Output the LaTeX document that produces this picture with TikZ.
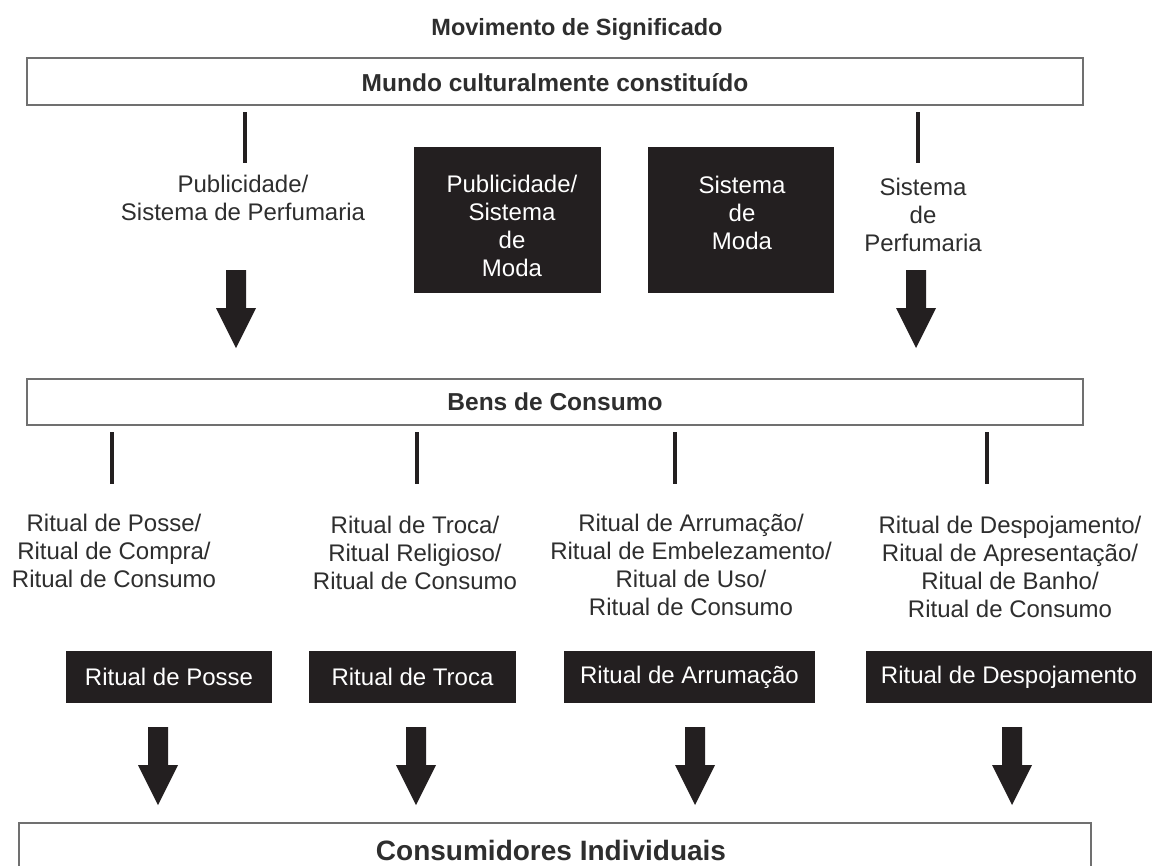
\documentclass[tikz,border=0pt]{standalone}
\usepackage{fontspec}
\setmainfont{Liberation Sans}
\definecolor{ink}{HTML}{231F20}
\definecolor{txt}{HTML}{2E2E2E}
\definecolor{frame}{HTML}{707070}
\begin{document}
\begin{tikzpicture}[x=1pt,y=-1pt,
  every node/.style={inner sep=0pt, outer sep=0pt},
  lbl/.style={align=center, text=txt, font=\fontsize{24}{28}\selectfont},
  ttl/.style={text=txt, font=\bfseries\fontsize{24.5}{28}\selectfont},
  framebox/.style={draw=frame, line width=1.5pt, fill=white},
  blackbox/.style={fill=ink, draw=none},
  wtxt/.style={align=center, text=white, font=\fontsize{24}{28}\selectfont},
  stem/.style={draw=ink, line width=3.5pt},
  fatarrow/.pic={\fill[ink] (-10,0) -- (10,0) -- (10,38) -- (20,38) -- (0,78) -- (-20,38) -- (-10,38) -- cycle;}
]
\useasboundingbox (0,0) rectangle (1154,865);
\clip (0,0) rectangle (1154,865);
\fill[white] (0,0) rectangle (1154,865);

% title
\node[ttl, font=\bfseries\fontsize{23.5}{26}\selectfont] (title) at (577,29) {Movimento de Significado};

% top box
\node[framebox, minimum width=1056pt, minimum height=47pt] (mundo) at (555,81.5) {};
\node[ttl] (mundot) at (555,83) {Mundo culturalmente constituído};

% stems from top box
\coordinate (s1a) at (245,112); \coordinate (s1b) at (245,163);
\coordinate (s2a) at (918,112); \coordinate (s2b) at (918,163);
\draw[stem] (s1a) -- (s1b);
\draw[stem] (s2a) -- (s2b);

% labels top row
\node[lbl] (pubsp) at (243,197.5) {Publicidade/\\Sistema de Perfumaria};
\node[lbl] (sperf) at (923,215) {Sistema\\de\\Perfumaria};

% black boxes top row
\node[blackbox, minimum width=187pt, minimum height=146pt] (bb1) at (507.5,220) {};
\node[wtxt] (bb1t) at (512,225.5) {Publicidade/\\Sistema\\de\\Moda};
\node[blackbox, minimum width=186pt, minimum height=146pt] (bb2) at (741,220) {};
\node[wtxt] (bb2t) at (742,212.5) {Sistema\\de\\Moda};

% arrows top row
\pic (ar1) at (236,270) {fatarrow};
\pic (ar2) at (916,270) {fatarrow};

% bens box
\node[framebox, minimum width=1056pt, minimum height=46pt] (bens) at (555,402) {};
\node[ttl] (benst) at (555,402) {Bens de Consumo};

% stems from bens
\coordinate (t1a) at (112,432); \coordinate (t1b) at (112,484);
\coordinate (t2a) at (417,432); \coordinate (t2b) at (417,484);
\coordinate (t3a) at (675,432); \coordinate (t3b) at (675,484);
\coordinate (t4a) at (987,432); \coordinate (t4b) at (987,484);
\draw[stem] (t1a) -- (t1b);
\draw[stem] (t2a) -- (t2b);
\draw[stem] (t3a) -- (t3b);
\draw[stem] (t4a) -- (t4b);

% ritual labels
\node[lbl] (c1) at (114,551) {Ritual de Posse/\\Ritual de Compra/\\Ritual de Consumo};
\node[lbl] (c2) at (415,553) {Ritual de Troca/\\Ritual Religioso/\\Ritual de Consumo};
\node[lbl] (c3) at (691,564.5) {Ritual de Arrumação/\\Ritual de Embelezamento/\\Ritual de Uso/\\Ritual de Consumo};
\node[lbl] (c4) at (1010,567) {Ritual de Despojamento/\\Ritual de Apresentação/\\Ritual de Banho/\\Ritual de Consumo};

% ritual black boxes
\node[blackbox, wtxt, minimum width=206pt, minimum height=52pt] (r1) at (169,677) {Ritual de Posse};
\node[blackbox, wtxt, minimum width=207pt, minimum height=52pt] (r2) at (412.5,677) {Ritual de Troca};
\node[blackbox, wtxt, minimum width=251pt, minimum height=52pt] (r3) at (689.5,677) {Ritual de Arrumação};
\node[blackbox, wtxt, minimum width=286pt, minimum height=52pt] (r4) at (1009,677) {Ritual de Despojamento};

% arrows bottom row
\pic (br1) at (158,727) {fatarrow};
\pic (br2) at (416,727) {fatarrow};
\pic (br3) at (695,727) {fatarrow};
\pic (br4) at (1012,727) {fatarrow};

% consumers box
\node[framebox, anchor=north west, minimum width=1072pt, minimum height=80pt] (cons) at (19,823) {};
\node[text=txt, font=\bfseries\fontsize{28}{32}\selectfont] (const) at (551,850) {Consumidores Individuais};
\end{tikzpicture}
\end{document}
